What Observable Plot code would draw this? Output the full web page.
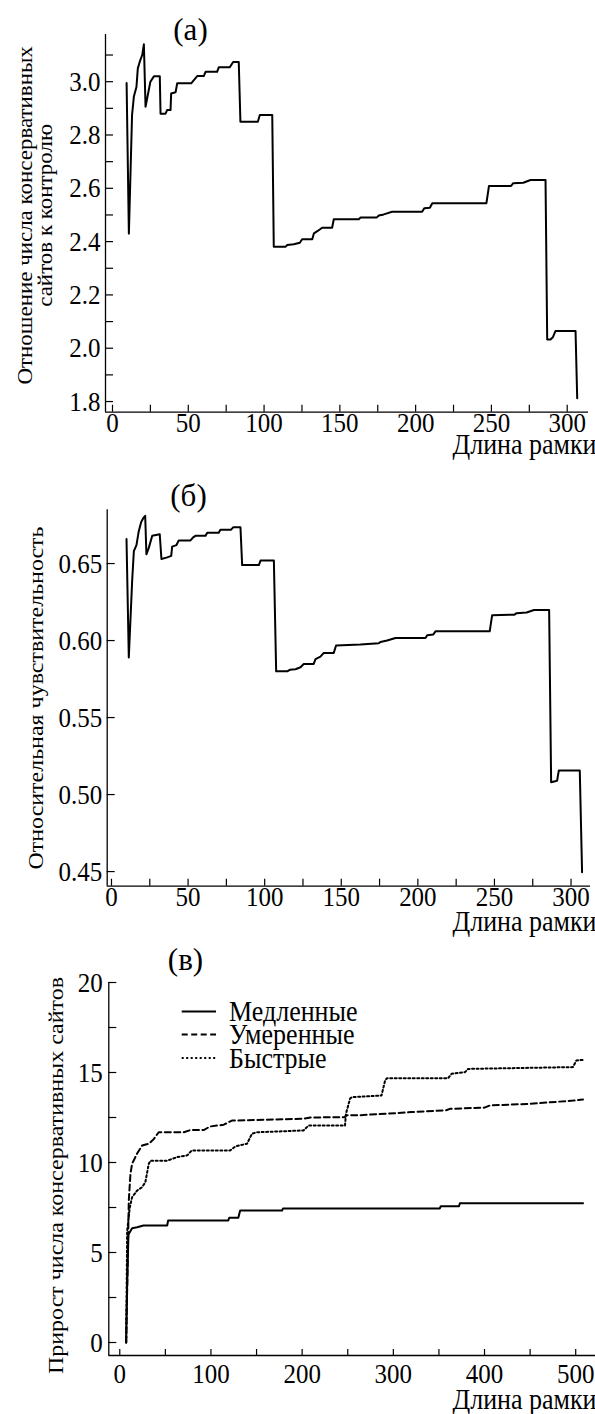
<!DOCTYPE html>
<html><head><meta charset="utf-8">
<script src="https://cdn.jsdelivr.net/npm/d3@7"></script>
<script src="https://cdn.jsdelivr.net/npm/@observablehq/plot@0.6"></script>
<style>
html,body{margin:0;padding:0;background:#fff;}
body{width:595px;height:1414px;overflow:hidden;}
#chart svg{display:block;}
#chart svg text{font-family:"Liberation Serif","Times New Roman",serif;}
</style></head><body><div id="chart"></div>
<script>
const FONT = "Liberation Serif";
const STRETCH = 1.12; // the reference glyphs are drawn a little taller than wide

// ---- Panel (а): ratio of conserved sites to control vs frame length
const frameA = [9.3,10.8,12.9,14.1,15.8,16.7,18.0,19.6,20.7,21.8,23.3,25.0,27.3,31.2,31.7,35.0,36.1,38.3,38.7,41.6,42.7,51.9,55.9,60.2,61.4,69.0,70.1,77.4,79.6,83.3,84.4,95.9,97.2,105.4,106.4,114.1,115.3,119.6,123.6,125.1,131.8,132.9,135.4,138.3,144.9,146.0,162.5,163.7,174.2,175.7,179.0,184.5,204.3,205.7,209.4,211.0,246.7,248.4,263.0,264.4,271.0,275.8,285.7,286.8,289.0,290.5,292.3,305.5,306.6];
const ratioA = [2.995,2.43,2.875,2.944,2.98,3.05,3.075,3.10,3.14,2.906,2.95,3.00,3.02,3.02,2.88,2.88,2.894,2.894,2.956,2.96,2.994,2.994,3.021,3.021,3.037,3.037,3.054,3.054,3.074,3.074,2.85,2.85,2.875,2.875,2.381,2.381,2.387,2.39,2.396,2.409,2.409,2.431,2.44,2.452,2.452,2.484,2.484,2.49,2.49,2.498,2.502,2.512,2.512,2.525,2.527,2.544,2.544,2.609,2.609,2.619,2.621,2.631,2.631,2.033,2.033,2.041,2.065,2.065,1.812];

// ---- Panel (б): relative sensitivity vs frame length
const frameB = [9.8,11.3,13.5,14.6,16.3,17.8,19.4,21.1,22.0,22.8,24.3,26.6,31.5,32.6,36.4,39.0,39.6,42.4,43.9,51.6,53.3,54.8,61.4,62.5,70.0,71.1,78.1,79.4,84.2,85.3,96.2,97.3,106.0,107.5,114.7,116.4,120.1,123.4,125.5,132.0,133.2,136.4,138.6,145.1,146.6,162.5,174.5,175.6,179.9,185.4,205.0,206.1,210.0,211.5,246.9,248.5,263.0,264.5,271.0,275.8,285.7,287.0,290.9,292.0,305.7,307.2];
const sensB = [0.666,0.589,0.639,0.658,0.662,0.671,0.677,0.680,0.681,0.656,0.660,0.668,0.669,0.653,0.654,0.655,0.661,0.662,0.665,0.665,0.667,0.668,0.668,0.670,0.670,0.672,0.672,0.6735,0.6735,0.649,0.649,0.652,0.652,0.580,0.580,0.581,0.5814,0.5827,0.5848,0.5848,0.588,0.5896,0.592,0.592,0.5968,0.5974,0.5983,0.5991,0.600,0.6017,0.6017,0.6034,0.6039,0.606,0.606,0.6165,0.6168,0.6178,0.6182,0.6198,0.6198,0.508,0.509,0.5156,0.5156,0.4495];

// ---- Panel (в): gain of conserved sites vs frame length, three groups
const seriesNames = ["Медленные","Умеренные","Быстрые"];
const frameSlow = [7,8,9.5,13.5,19,26,52,53,119,120,130,132,178,179,351,352,372,373,508];
const gainSlow  = [0,3,6.0,6.35,6.4,6.5,6.5,6.78,6.78,6.93,6.93,7.33,7.33,7.45,7.45,7.57,7.57,7.74,7.74];
const frameMod = [7,8.5,9.9,11.7,13.5,19,24.5,31.8,37.2,42.7,70,77.4,92,99,114,123,201.5,209,247,248,260,303,320,358,362,400,406,450,497,508];
const gainMod  = [0,4,7.9,9.37,9.93,10.5,10.94,11.04,11.3,11.68,11.68,11.8,11.8,12.0,12.1,12.33,12.43,12.5,12.52,12.62,12.62,12.74,12.8,12.9,12.98,13.05,13.17,13.26,13.44,13.5];
const frameFast = [7,8.1,11,13.5,19,24.5,28,31.8,33.6,52,63,74,79,121,127,139.5,145,150,201.5,207,247,248,252.5,254.5,287,291,293,360,364,378.6,382,497,500.8,508];
const gainFast  = [0,6.2,7.5,8.07,8.44,8.63,8.9,9.93,10.1,10.1,10.3,10.4,10.67,10.67,10.9,11.04,11.6,11.68,11.78,12.05,12.05,12.7,13.54,13.63,13.72,14.56,14.68,14.68,14.93,15.02,15.2,15.3,15.67,15.7];

const xTicksA = d3.range(0, 301, 25), xLabelsA = d3.range(0, 301, 50);
const yTicksA = d3.range(18, 32).map(d => d / 10), yLabelsA = [1.8,2.0,2.2,2.4,2.6,2.8,3.0];
const yTicksB = [0.45,0.50,0.55,0.60,0.65];
const xTicksC = d3.range(0, 501, 50), xLabelsC = d3.range(0, 501, 100);
const yTicksC = d3.range(0, 21, 2.5), yLabelsC = [0,5,10,15,20];

const zip = (xs, ys) => xs.map((x, i) => ({x, y: ys[i]}));

function panel(o) {
  const innerH = o.height - o.mt - o.mb;
  const innerW = 595 - o.ml - o.mr;
  const marks = [
    Plot.ruleX([o.xDomain[0]], {stroke: "#000", strokeWidth: 1.3}),
    Plot.ruleY([o.yDomain[0]], {stroke: "#000", strokeWidth: 1.3}),
    Plot.tickX(o.xTicks, {x: d => d, insetTop: innerH - o.xTickLen, stroke: "#000", strokeWidth: 1.2}),
    Plot.tickY(o.yTicks, {y: d => d, insetRight: innerW - o.yTickLen, stroke: "#000", strokeWidth: 1.2}),
    Plot.axisX({ticks: o.xLabels, tickSize: 0, tickPadding: o.xPad, fontSize: 25, fontFamily: FONT, label: null, tickFormat: d => String(d)}),
    Plot.axisY({ticks: o.yLabels, tickSize: 0, tickPadding: o.yPad, fontSize: 25, fontFamily: FONT, label: null, tickFormat: o.yFormat}),
    ...o.series.map(s => Plot.line(s.data, {x: "x", y: "y", stroke: "#000", strokeWidth: 2, strokeDasharray: s.dash, curve: "linear"})),
    Plot.text([o.title], {frameAnchor: "top-left", dx: o.titleDx, dy: o.titleDy, fontSize: 31, fontFamily: FONT, textAnchor: "middle", lineAnchor: "middle", className: "title"}),
    Plot.text([o.ylabel], {frameAnchor: "left", rotate: -90, dx: o.ylDx, dy: o.ylDy, fontSize: o.ylSize, fontFamily: FONT, lineHeight: o.ylLH || 1, textAnchor: "middle", lineAnchor: "middle"}),
    Plot.text(["Длина рамки"], {frameAnchor: "bottom-right", dx: o.xlDx, dy: o.xlDy, fontSize: 26, fontFamily: FONT, textAnchor: "end", lineAnchor: "middle"})
  ];
  return Plot.plot({
    width: 595, height: o.height,
    marginTop: o.mt, marginBottom: o.mb, marginLeft: o.ml, marginRight: o.mr,
    x: {domain: o.xDomain, axis: null},
    y: {domain: o.yDomain, axis: null},
    style: {fontFamily: '"Liberation Serif", serif', fontSize: "24px", background: "#fff", color: "#000", overflow: "visible"},
    marks
  });
}

const chart = document.getElementById("chart");

chart.appendChild(panel({
  height: 455, mt: 34, mb: 43.3, ml: 105, mr: 7,
  xDomain: [-4.62, 314.05], yDomain: [1.760, 3.177],
  xTicks: xTicksA, xLabels: xLabelsA, xTickLen: 7, xPad: 1,
  yTicks: yTicksA, yLabels: yLabelsA, yTickLen: 8, yPad: 5, yFormat: d => d.toFixed(1),
  series: [{data: zip(frameA, ratioA), dash: null}],
  title: "(а)", titleDx: 85, titleDy: -4,
  ylabel: "Отношение числа консервативных\nсайтов к контролю", ylDx: -70, ylDy: -8, ylSize: 20.5, ylLH: 1.0,
  xlDx: 8, xlDy: 32
}));

chart.appendChild(panel({
  height: 480, mt: 54.3, mb: 49.3, ml: 106.7, mr: 5,
  xDomain: [-2.8, 312.7], yDomain: [0.4405, 0.6849],
  xTicks: xTicksA, xLabels: xLabelsA, xTickLen: 7, xPad: 1,
  yTicks: yTicksB, yLabels: yTicksB, yTickLen: 8, yPad: 5, yFormat: d => d.toFixed(2),
  series: [{data: zip(frameB, sensB), dash: null}],
  title: "(б)", titleDx: 81.3, titleDy: -13.3,
  ylabel: "Относительная чувствительность", ylDx: -70.7, ylDy: 0, ylSize: 21.4,
  xlDx: 6, xlDy: 35
}));

const dashes = [null, "6,3.5", "2,2.5"];
const svgC = panel({
  height: 479, mt: 47, mb: 59, ml: 108.3, mr: 0,
  xDomain: [-12.04, 521.7], yDomain: [-0.722, 20],
  xTicks: xTicksC, xLabels: xLabelsC, xTickLen: 6, xPad: 9,
  yTicks: yTicksC, yLabels: yLabelsC, yTickLen: 8, yPad: 6, yFormat: d => String(d),
  series: [
    {data: zip(frameSlow, gainSlow), dash: dashes[0]},
    {data: zip(frameMod, gainMod), dash: dashes[1]},
    {data: zip(frameFast, gainFast), dash: dashes[2]}
  ],
  title: "(в)", titleDx: 76.7, titleDy: -22,
  ylabel: "Прирост числа консервативных сайтов", ylDx: -53, ylDy: 6.5, ylSize: 21.4,
  xlDx: 1, xlDy: 44
});
chart.appendChild(svgC);

// legend inside panel (в)
const lg = d3.select(svgC).append("g").attr("font-family", FONT).attr("font-size", 26).attr("text-anchor", "start");
const rowsY = [76.5, 99.5, 123];
seriesNames.forEach((name, i) => {
  lg.append("line").attr("x1", 181.7).attr("x2", 216).attr("y1", rowsY[i]).attr("y2", rowsY[i])
    .attr("stroke", "#000").attr("stroke-width", 2).attr("stroke-dasharray", dashes[i]);
  lg.append("text").attr("x", 229).attr("y", rowsY[i]).attr("dy", "0.33em").attr("fill", "#000")
    .attr("text-anchor", "start").text(name);
});

// stretch glyphs slightly in the page's vertical direction, about each text's own centre
document.querySelectorAll("#chart svg text").forEach(t => {
  if (t.closest(".title")) return;
  const bb = t.getBBox();
  const cx = bb.x + bb.width / 2, cy = bb.y + bb.height / 2;
  const tr = t.getAttribute("transform") || "";
  const s = /rotate/.test(tr) ? `scale(${STRETCH},1)` : `scale(1,${STRETCH})`;
  t.setAttribute("transform", `${tr} translate(${cx},${cy}) ${s} translate(${-cx},${-cy})`.trim());
});
</script>
</body></html>
